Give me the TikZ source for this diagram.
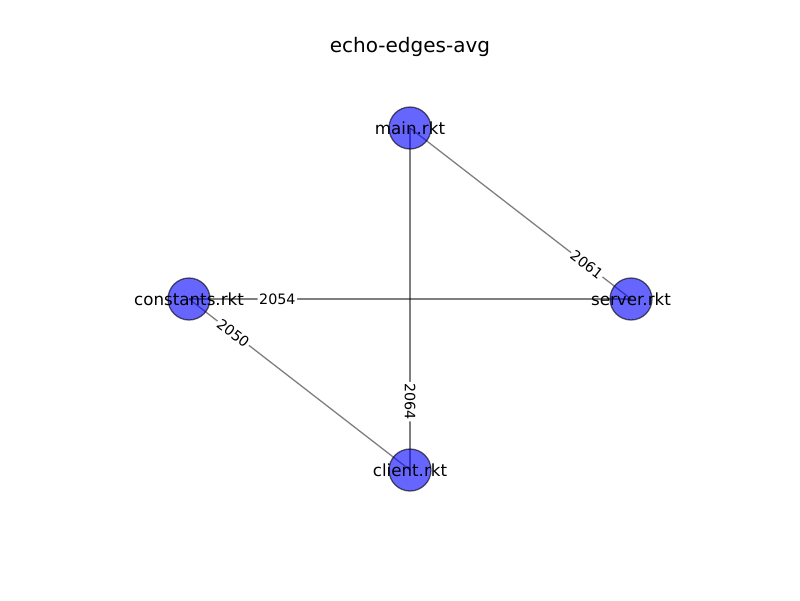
\documentclass[tikz,border=0pt]{standalone}
\usepackage{fontspec}
\setmainfont{DejaVu Sans}
\begin{document}
\begin{tikzpicture}[x=1pt,y=-1pt,
  vert/.style={circle,minimum size=42pt,inner sep=0pt,fill={rgb,255:red,0;green,0;blue,255},fill opacity=0.6,draw=black,draw opacity=0.6,line width=1.3pt},
  vlabel/.style={font=\fontsize{16.7}{18}\selectfont,text=black,inner sep=0pt},
  edge/.style={draw=black,draw opacity=0.5,line width=1.3pt},
  elabel/.style={fill=white,inner sep=1.5pt,rounded corners=2pt,font=\fontsize{14.3}{15}\selectfont}]
\useasboundingbox (0,0) rectangle (800,600);
\node[font=\fontsize{20}{22}\selectfont] (title) at (410,47) {echo-edges-avg};
\coordinate (pm) at (410,128);
\coordinate (ps) at (631,299);
\coordinate (pc) at (189,299);
\coordinate (pl) at (410,470);
\draw[edge] (pm) -- (ps);
\draw[edge] (pm) -- (pl);
\draw[edge] (pc) -- (ps);
\draw[edge] (pc) -- (pl);
\node[vert] (m) at (pm) {};
\node[vert] (s) at (ps) {};
\node[vert] (c) at (pc) {};
\node[vert] (l) at (pl) {};
\node[vlabel] (mt) at (m.center) {main.rkt};
\node[vlabel] (st) at (s.center) {server.rkt};
\node[vlabel] (ct) at (c.center) {constants.rkt};
\node[vlabel] (lt) at (l.center) {client.rkt};
\path (m.center) -- (s.center) node[elabel,pos=0.8,rotate=-37.7] (e1) {2061};
\path (m.center) -- (l.center) node[elabel,pos=0.8,rotate=-90] (e2) {2064};
\path (c.center) -- (s.center) node[elabel,pos=0.2] (e3) {2054};
\path (c.center) -- (l.center) node[elabel,pos=0.2,rotate=-37.7] (e4) {2050};
\end{tikzpicture}
\end{document}
